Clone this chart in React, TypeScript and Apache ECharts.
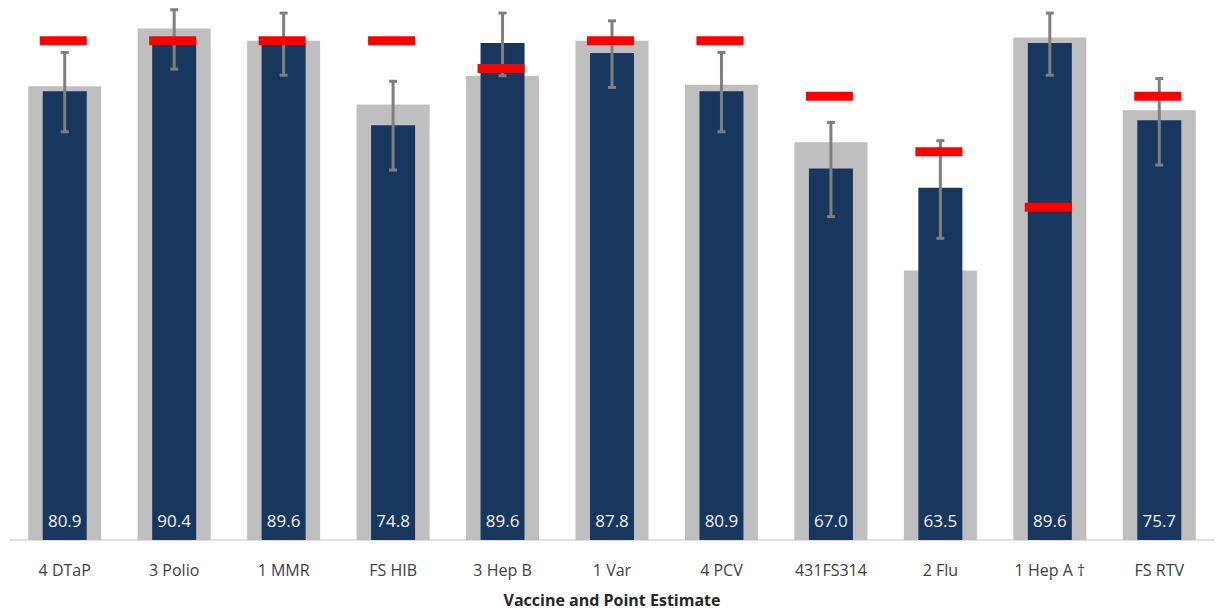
import React, { useEffect, useRef } from "react";
import * as echarts from "echarts";

const categories = ["4 DTaP", "3 Polio", "1 MMR", "FS HIB", "3 Hep B", "1 Var", "4 PCV", "431FS314", "2 Flu", "1 Hep A †", "FS RTV"];
const pointEstimates = [80.9, 90.4, 89.6, 74.8, 89.6, 87.8, 80.9, 67.0, 63.5, 89.6, 75.7];
const comparisonValues = [81.8, 92.2, 90.0, 78.5, 83.7, 90.0, 82.1, 71.7, 48.6, 90.6, 77.5];
const ciLower = [73.6, 84.9, 83.8, 66.7, 83.7, 81.6, 73.6, 58.3, 54.4, 83.8, 67.6];
const ciUpper = [87.9, 95.6, 95.0, 82.7, 95.0, 93.6, 87.9, 75.3, 72.0, 95.0, 83.2];
const targets = [90, 90, 90, 90, 85, 90, 90, 80, 70, 60, 80];

const FONT = "'Open Sans', 'Noto Sans', sans-serif";

export default function App() {
  const ref = useRef<HTMLDivElement>(null);
  useEffect(() => {
    if (!ref.current) return;
    const chart = echarts.init(ref.current, null, { renderer: "svg" });
    const errData = categories.map((_, i) => [i, ciLower[i], ciUpper[i]]);
    chart.setOption({
      animation: false,
      grid: { left: 10, right: 6, top: 2, bottom: 74, containLabel: false },
      xAxis: [
        {
          type: "category",
          data: categories,
          axisLine: { show: true, lineStyle: { color: "#d9d9d9", width: 1.5 } },
          axisTick: { show: false },
          axisLabel: { color: "#404040", fontSize: 16, fontFamily: FONT, margin: 22, interval: 0 },
          name: "Vaccine and Point Estimate",
          nameLocation: "middle",
          nameGap: 52,
          nameTextStyle: { color: "#262626", fontSize: 16, fontWeight: "bold", fontFamily: FONT },
        },
        { type: "category", data: categories, show: false },
      ],
      yAxis: { type: "value", min: 0, max: 97, show: false, splitLine: { show: false } },
      series: [
        {
          type: "bar",
          xAxisIndex: 0,
          data: comparisonValues,
          barWidth: 73,
          itemStyle: { color: "#bfbfbf" },
          z: 1,
        },
        {
          type: "bar",
          xAxisIndex: 1,
          data: pointEstimates,
          barWidth: 44,
          itemStyle: { color: "#17375e" },
          label: {
            show: true,
            position: "insideBottom",
            distance: 11,
            color: "#f2f2f2",
            fontSize: 17,
            fontFamily: FONT,
            formatter: (p: any) => Number(p.value).toFixed(1),
          },
          z: 2,
        },
        {
          type: "custom",
          xAxisIndex: 1,
          data: errData,
          z: 3,
          renderItem: (params: any, api: any) => {
            const x = api.coord([api.value(0), api.value(1)])[0];
            const yLow = api.coord([api.value(0), api.value(1)])[1];
            const yHigh = api.coord([api.value(0), api.value(2)])[1];
            const cap = 4;
            const style = { stroke: "#7f7f7f", lineWidth: 3 };
            return {
              type: "group",
              children: [
                { type: "line", shape: { x1: x, y1: yLow, x2: x, y2: yHigh }, style },
                { type: "line", shape: { x1: x - cap, y1: yHigh, x2: x + cap, y2: yHigh }, style },
                { type: "line", shape: { x1: x - cap, y1: yLow, x2: x + cap, y2: yLow }, style },
              ],
            };
          },
        },
        {
          type: "scatter",
          xAxisIndex: 1,
          data: targets,
          symbol: "rect",
          symbolSize: [47, 9],
          symbolOffset: [-1.5, 0],
          itemStyle: { color: "#ff0000", opacity: 1 },
          z: 4,
        },
      ],
    });
    return () => chart.dispose();
  }, []);
  return <div ref={ref} style={{ position: "absolute", left: 0, top: 0, width: 1220, height: 614 }} />;
}
